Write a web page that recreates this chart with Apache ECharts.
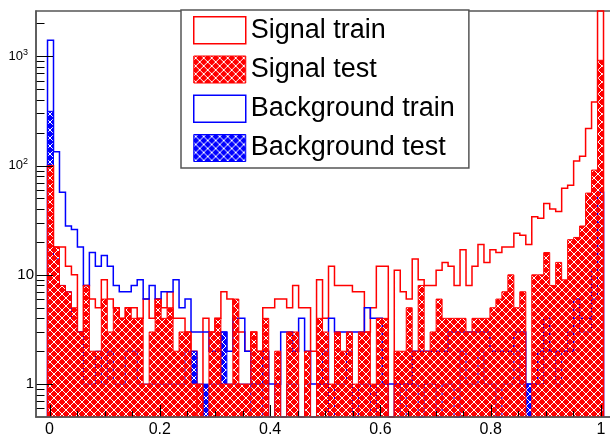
<!DOCTYPE html>
<html>
<head>
<meta charset="utf-8">
<script src="https://cdn.jsdelivr.net/npm/echarts@6/dist/echarts.min.js"></script>
<style>
  html, body { margin: 0; padding: 0; background: #fff; }
  #chart { width: 610px; height: 435px; }
</style>
</head>
<body>
<div id="chart"></div>
<script>
// Classifier response distributions: 93 equal bins starting at binStart
const binStart = -0.0036;
const binWidth = 0.01084;

const signalTrain = [
  100, 18, 18, 12, 10, 3, 8, 6, 5, 9,
  6, 5, 4, 5, 5, 4, 6, 4, 6, 5,
  7, 4, 4, 3, 2, 0, 4, 3, 4, 7,
  6, 3, 3, 2, 3, 2, 5, 5, 6, 6,
  5, 8, 5, 5, 2, 9, 4, 12, 8, 8,
  8, 7, 7, 3, 5, 12, 12, 0, 11, 7,
  6, 14, 9, 8, 8, 11, 13, 12, 8, 17,
  8, 12, 19, 13, 17, 16, 18, 18, 24, 23,
  19, 34, 33, 45, 40, 38, 62, 66, 110, 122,
  218, 382, 3500
];
const signalTest = [
  100, 18, 8, 7, 5, 3, 8, 2, 2, 6,
  3, 5, 4, 5, 4, 4, 1, 3, 6, 4,
  5, 2, 3, 3, 1, 1, 0, 3, 4, 1,
  1, 6, 1, 1, 3, 2, 4, 0, 2, 0,
  3, 3, 0, 2, 0, 4, 3, 1, 3, 2,
  3, 1, 3, 3, 1, 4, 4, 0, 2, 2,
  5, 2, 8, 2, 3, 6, 4, 4, 4, 4,
  3, 4, 4, 4, 5, 6, 7, 10, 5, 7,
  0, 10, 10, 16, 8, 13, 9, 21, 22, 28,
  56, 91, 920
];
const backgroundTrain = [
  1400, 134, 57, 28, 26, 18, 8, 16, 12, 15,
  12, 8, 7, 7, 8, 9, 6, 8, 6, 7,
  7, 9, 5, 6, 3, 3, 3, 2, 2, 3,
  2, 4, 4, 2, 1, 1, 2, 1, 1, 3,
  3, 2, 4, 2, 1, 1, 1, 4, 3, 3,
  3, 3, 3, 5, 4, 4, 1, 1, 1, 1,
  1, 2, 2, 2, 2, 2, 2, 3, 3, 3,
  3, 3, 3, 3, 2, 2, 2, 2, 3, 3,
  1, 1, 2, 4, 2, 2, 2, 2, 6, 4,
  4, 11, 57
];
const backgroundTest = [
  314, 14, 8, 7, 4, 3, 1, 1, 2, 1,
  2, 1, 1, 2, 2, 1, 1, 1, 1, 1,
  1, 1, 1, 2, 2, 1, 1, 1, 1, 3,
  1, 1, 1, 1, 0, 0, 1, 0, 1, 0,
  1, 1, 0, 1, 0, 1, 2, 0, 1, 1,
  2, 0, 1, 1, 0, 1, 1, 0, 1, 0,
  1, 1, 0, 1, 1, 0, 1, 1, 0, 2,
  1, 1, 2, 1, 1, 0, 1, 1, 2, 1,
  1, 1, 1, 2, 2, 1, 2, 3, 4, 3,
  3, 6, 30
];

// Axis ticks and labels
const xTickValues = [0, 0.2, 0.4, 0.6, 0.8, 1];
const xMinorTicks = [0.05, 0.1, 0.15, 0.25, 0.3, 0.35, 0.45, 0.5, 0.55, 0.65, 0.7, 0.75, 0.85, 0.9, 0.95];
const yTickValues = [1, 10, 100, 1000];
const yMinorTicks = [0.6, 0.7, 0.8, 0.9, 2, 3, 4, 5, 6, 7, 8, 9, 20, 30, 40, 50, 60, 70, 80, 90,
  200, 300, 400, 500, 600, 700, 800, 900, 2000];

const X_MIN = -0.0245, X_MAX = 1.0199;
const Y_MIN = 0.5, Y_MAX = 2600;
const FONT = 'Liberation Sans, Arial, sans-serif';
const RED = '#ff0000', BLUE = '#0000ff';

// Diamond weave tile: coloured with transparent diagonal gaps
function weaveTile(rgb) {
  const n = 8;
  const c = document.createElement('canvas');
  c.width = n; c.height = n;
  const ctx = c.getContext('2d');
  const img = ctx.createImageData(n, n);
  const mod = (a) => ((a % n) + n) % n;
  for (let y = 0; y < n; y++) {
    for (let x = 0; x < n; x++) {
      const hole = mod(x - y) === 0 || mod(x + y) === 3;
      const k = (y * n + x) * 4;
      img.data[k] = rgb[0]; img.data[k + 1] = rgb[1]; img.data[k + 2] = rgb[2];
      img.data[k + 3] = hole ? 0 : 255;
    }
  }
  ctx.putImageData(img, 0, 0);
  return c;
}
const redWeave = { image: weaveTile([255, 0, 0]), repeat: 'repeat' };
const blueWeave = { image: weaveTile([0, 0, 255]), repeat: 'repeat' };

// Inside tick marks along the left and bottom frame edges
function frameTicks(api, cs) {
  const left = cs.x, bottom = cs.y + cs.height;
  const lines = [];
  const seg = function (x1, y1, x2, y2) {
    lines.push({ type: 'line', z2: 50, shape: { x1: x1, y1: y1, x2: x2, y2: y2 },
      style: { stroke: '#000', lineWidth: 1 } });
  };
  yTickValues.forEach(function (v) { const y = Math.round(api.coord([0, v])[1]) + 0.5; seg(left, y, left + 17, y); });
  yMinorTicks.forEach(function (v) { const y = Math.round(api.coord([0, v])[1]) + 0.5; seg(left, y, left + 8.5, y); });
  xTickValues.forEach(function (v) { const x = Math.round(api.coord([v, 1])[0]) + 0.5; seg(x, bottom, x, bottom - 12); });
  xMinorTicks.forEach(function (v) { const x = Math.round(api.coord([v, 1])[0]) + 0.5; seg(x, bottom, x, bottom - 6); });
  return lines;
}

// One step-shaped histogram drawn through the cartesian scales
function histSeries(name, values, color, lineWidth, fill, z, withTicks) {
  return {
    type: 'custom',
    name: name,
    z: z,
    data: values.map((v, i) => [binStart + i * binWidth, binStart + (i + 1) * binWidth, v]),
    renderItem: function (params, api) {
      if (params.dataIndex !== 0) return null;
      const cs = params.coordSys;
      const top = cs.y, bottom = cs.y + cs.height;
      const py = (v) => (v > Y_MIN ? Math.max(api.coord([0, v])[1], top) : bottom);
      const px = (x) => api.coord([x, 1])[0];
      const pts = [[px(binStart), bottom]];
      values.forEach((v, i) => {
        const y = py(v);
        pts.push([px(binStart + i * binWidth), y]);
        pts.push([px(binStart + (i + 1) * binWidth), y]);
      });
      pts.push([px(binStart + values.length * binWidth), bottom]);
      let children = [];
      if (fill) {
        children.push({ type: 'polygon', shape: { points: pts }, style: { fill: fill, stroke: null } });
      }
      children.push({
        type: 'polyline', shape: { points: pts },
        style: { stroke: color, lineWidth: lineWidth, fill: null, lineJoin: 'miter' }
      });
      if (withTicks) children = children.concat(frameTicks(api, cs));
      return { type: 'group', children: children };
    }
  };
}

const axisGray = '#555';

const chart = echarts.init(document.getElementById('chart'), null, { renderer: 'canvas' });
chart.setOption({
  animation: false,
  backgroundColor: '#fff',
  textStyle: { fontFamily: FONT },
  grid: {
    left: 36, top: 11, right: -2, bottom: 18, outerBoundsMode: 'none',
    show: true, borderColor: axisGray, borderWidth: 1.5, backgroundColor: 'transparent'
  },
  legend: {
    orient: 'vertical',
    left: 181, top: 10,
    padding: [6, 14, 6, 12],
    itemWidth: 52, itemHeight: 27, itemGap: 11,
    backgroundColor: '#fff', borderColor: axisGray, borderWidth: 1.5,
    textStyle: { fontSize: 27, color: '#000', fontFamily: FONT, lineHeight: 27 },
    selectedMode: false,
    z: 20,
    data: [
      { name: 'Signal train', icon: 'rect', itemStyle: { color: '#fff', borderColor: RED, borderWidth: 1.5 } },
      { name: 'Signal test', icon: 'rect', itemStyle: { color: redWeave, borderColor: RED, borderWidth: 1 } },
      { name: 'Background train', icon: 'rect', itemStyle: { color: '#fff', borderColor: BLUE, borderWidth: 1.5 } },
      { name: 'Background test', icon: 'rect', itemStyle: { color: blueWeave, borderColor: BLUE, borderWidth: 1 } }
    ]
  },
  xAxis: {
    type: 'value', position: 'bottom', min: X_MIN, max: X_MAX, z: 10,
    axisLine: { show: true, onZero: false, lineStyle: { color: axisGray, width: 1.5 } },
    axisTick: { show: false },
    axisLabel: { show: true, customValues: xTickValues, fontSize: 16, color: '#000', margin: 5,
      formatter: (v) => String(Math.round(v * 10) / 10) },
    splitLine: { show: false }
  },
  yAxis: {
    type: 'log', logBase: 10, position: 'left', min: Y_MIN, max: Y_MAX, z: 10,
    axisLine: { show: true, onZero: false, lineStyle: { color: axisGray, width: 1.5 } },
    axisTick: { show: false },
    axisLabel: {
      show: true, customValues: yTickValues, color: '#000', margin: 2,
      formatter: (v) => {
        const e = Math.round(Math.log10(v));
        return e <= 1 ? '{n|' + Math.round(v) + '}' : '{b|10}{s|' + e + '}{p|}';
      },
      rich: {
        n: { fontSize: 15, fontFamily: FONT, color: '#000' },
        b: { fontSize: 13, fontFamily: FONT, color: '#000' },
        s: { fontSize: 9, fontFamily: FONT, color: '#000', padding: [0, 0, 8, 0] },
        p: { width: 6 }
      }
    },
    splitLine: { show: false }
  },
  series: [
    histSeries('Signal train', signalTrain, RED, 1.5, null, 2, false),
    histSeries('Background train', backgroundTrain, BLUE, 1.5, null, 3, false),
    histSeries('Background test', backgroundTest, BLUE, 1, blueWeave, 4, false),
    histSeries('Signal test', signalTest, RED, 1, redWeave, 5, true)
  ]
});
</script>
</body>
</html>
